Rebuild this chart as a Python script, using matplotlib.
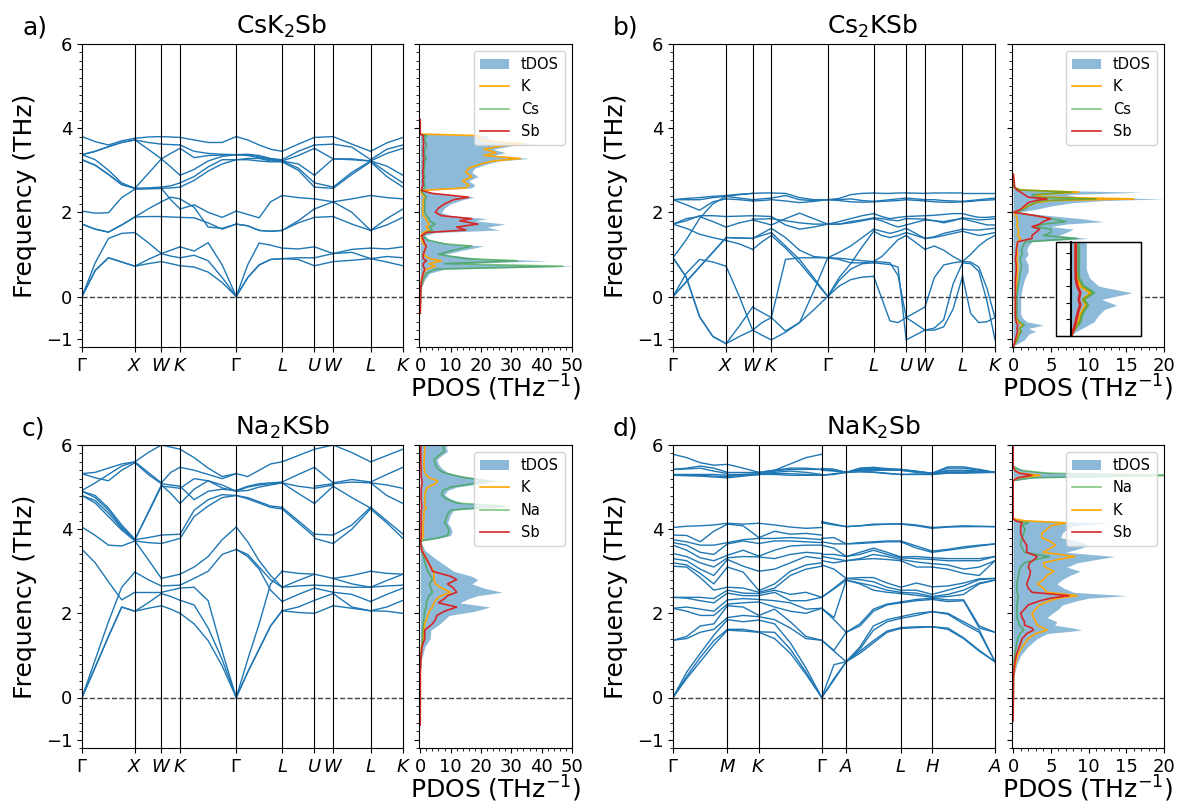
import numpy as np
import matplotlib.pyplot as plt
from matplotlib.ticker import MultipleLocator
from matplotlib.patches import Rectangle

# ---------------- k-paths ----------------
fcc_labels = [r'$\Gamma$', '$X$', '$W$', '$K$', r'$\Gamma$', '$L$', '$U$', '$W$', '$L$', '$K$']
fcc_seg_len = [1.0, 0.5, 0.3536, 1.0607, 0.8660, 0.6124, 0.3536, 0.7071, 0.6124]
hex_labels = [r'$\Gamma$', '$M$', '$K$', r'$\Gamma$', '$A$', '$L$', '$H$', '$A$']
hex_seg_len = [1.0, 0.5774, 1.1547, 0.45, 1.0, 0.5774, 1.1547]

# ---------------- band data (per segment, one list per branch) ----------------
bands_a = [
    [[0, 0.62, 0.92, 0.82, 0.72], [0, 0.62, 0.92, 0.82, 0.72], [0, 0.80, 1.38, 1.50, 1.52],
     [1.72, 1.60, 1.53, 1.70, 1.89], [1.72, 1.60, 1.53, 1.70, 1.89], [2.03, 1.98, 1.99, 2.35, 2.55],
     [3.25, 3.12, 2.90, 2.66, 2.57], [3.25, 3.12, 2.90, 2.66, 2.57], [3.37, 3.25, 3.00, 2.70, 2.57],
     [3.37, 3.45, 3.56, 3.66, 3.72], [3.37, 3.45, 3.56, 3.66, 3.72], [3.80, 3.68, 3.60, 3.70, 3.76]],
    [[0.72, 0.78, 0.83], [0.72, 0.88, 1.02], [1.52, 1.28, 1.02], [1.89, 1.90, 1.90], [1.89, 2.08, 2.25],
     [2.55, 2.56, 2.57], [2.57, 2.57, 2.57], [2.57, 2.58, 2.60], [2.57, 2.92, 3.27], [3.72, 3.50, 3.27],
     [3.72, 3.66, 3.62], [3.76, 3.79, 3.80]],
    [[0.83, 0.78, 0.73], [1.02, 0.96, 0.92], [1.02, 1.10, 1.18], [1.90, 1.89, 1.88], [2.25, 2.36, 2.32],
     [2.57, 2.30, 2.08], [2.57, 2.58, 2.60], [2.60, 2.63, 2.70], [3.27, 3.08, 2.88], [3.27, 3.40, 3.52],
     [3.62, 3.61, 3.60], [3.80, 3.79, 3.78]],
    [[0.73, 0.70, 0.58, 0.33, 0], [0.92, 0.98, 0.85, 0.45, 0], [1.18, 1.08, 1.28, 0.75, 0],
     [1.88, 1.87, 1.75, 1.60, 1.72], [2.08, 2.18, 2.00, 1.88, 2.03], [2.32, 2.12, 1.65, 1.62, 1.72],
     [2.60, 2.76, 2.98, 3.15, 3.25], [2.70, 2.85, 3.08, 3.25, 3.25], [2.88, 3.02, 3.22, 3.33, 3.37],
     [3.52, 3.30, 3.35, 3.36, 3.37], [3.60, 3.45, 3.40, 3.38, 3.37], [3.78, 3.72, 3.66, 3.66, 3.80]],
    [[0, 0.45, 0.75, 0.88, 0.90], [0, 0.45, 0.75, 0.88, 0.90], [0, 0.75, 1.27, 1.22, 1.15],
     [1.72, 1.68, 1.57, 1.55, 1.57], [1.72, 1.68, 1.57, 1.55, 1.57], [2.03, 1.95, 1.87, 2.25, 2.40],
     [3.25, 3.25, 3.22, 3.20, 3.20], [3.25, 3.28, 3.28, 3.22, 3.22], [3.37, 3.35, 3.30, 3.25, 3.22],
     [3.37, 3.37, 3.32, 3.27, 3.22], [3.37, 3.38, 3.35, 3.28, 3.25], [3.80, 3.72, 3.60, 3.50, 3.45]],
    [[0.90, 0.88, 0.73], [0.90, 0.92, 0.92], [1.15, 1.13, 1.18], [1.57, 1.75, 1.88], [1.57, 1.80, 2.08],
     [2.40, 2.35, 2.32], [3.20, 3.00, 2.60], [3.22, 3.05, 2.70], [3.22, 3.15, 2.88], [3.22, 3.35, 3.52],
     [3.25, 3.45, 3.60], [3.45, 3.62, 3.78]],
    [[0.73, 0.83], [0.92, 1.02], [1.18, 1.02], [1.88, 1.90], [2.08, 2.25], [2.32, 2.25], [2.60, 2.57],
     [2.70, 2.60], [2.88, 3.27], [3.52, 3.27], [3.60, 3.62], [3.78, 3.80]],
    [[0.83, 0.86, 0.90], [1.02, 1.05, 0.90], [1.02, 1.12, 1.15], [1.90, 1.72, 1.57], [2.25, 2.00, 1.57],
     [2.25, 2.32, 2.40], [2.57, 2.90, 3.20], [2.60, 2.95, 3.22], [3.27, 3.25, 3.22], [3.27, 3.27, 3.22],
     [3.62, 3.55, 3.25], [3.80, 3.62, 3.45]],
    [[0.90, 0.82, 0.73], [0.90, 0.95, 0.92], [1.15, 1.13, 1.18], [1.57, 1.70, 1.88], [1.57, 1.85, 2.08],
     [2.40, 2.35, 2.32], [3.20, 2.85, 2.60], [3.22, 2.95, 2.70], [3.22, 3.10, 2.88], [3.22, 3.40, 3.52],
     [3.25, 3.50, 3.60], [3.45, 3.65, 3.78]],
]

bands_b = [
    [[0.92, 0.46, -0.48, -0.95, -1.12], [0.92, 0.46, -0.48, -0.95, -1.12], [0, 0.55, 0.88, 0.82, 0.72],
     [0, 0.35, 0.70, 1.05, 1.40], [0, 0.35, 0.70, 1.05, 1.40], [0.92, 1.35, 1.85, 2.20, 2.38],
     [1.72, 1.62, 1.48, 1.40, 1.33], [1.72, 1.85, 1.90, 1.78, 1.65], [1.72, 1.80, 1.92, 1.92, 1.90],
     [2.30, 2.18, 2.05, 2.25, 2.32], [2.30, 2.30, 2.30, 2.35, 2.38], [2.30, 2.33, 2.35, 2.38, 2.40]],
    [[-1.12, -0.95, -0.80], [-1.12, -0.70, -0.25], [0.72, 0.00, -0.80], [1.33, 1.25, 1.12],
     [1.40, 1.39, 1.38], [1.40, 1.39, 1.38], [1.65, 1.75, 1.82], [1.90, 1.91, 1.92],
     [2.32, 2.30, 2.27], [2.38, 2.34, 2.30], [2.38, 2.42, 2.45], [2.40, 2.43, 2.45]],
    [[-0.80, -0.92, -1.03], [-0.80, -0.62, -0.50], [-0.25, -0.38, -0.50], [1.12, 1.30, 1.45],
     [1.38, 1.45, 1.52], [1.38, 1.50, 1.62], [1.82, 1.76, 1.70], [1.84, 1.84, 1.85], [1.92, 1.91, 1.90],
     [2.27, 2.28, 2.30], [2.30, 2.32, 2.34], [2.45, 2.46, 2.46]],
    [[-1.03, -0.85, -0.62, -0.32, 0], [-0.50, 0.88, 0.92, 0.92, 0.92], [-0.50, -0.82, -0.62, 0.12, 0.92],
     [1.45, 1.15, 0.80, 0.40, 0], [1.52, 1.20, 0.88, 0.45, 0], [1.62, 1.40, 1.10, 0.95, 0.92],
     [1.70, 1.85, 1.98, 1.85, 1.72], [1.85, 1.80, 1.75, 1.72, 1.72], [1.90, 1.70, 1.60, 1.65, 1.72],
     [2.30, 2.27, 2.23, 2.26, 2.30], [2.34, 2.40, 2.30, 2.28, 2.30], [2.46, 2.45, 2.35, 2.30, 2.30]],
    [[0, 0.25, 0.40, 0.46, 0.48], [0, 0.38, 0.65, 0.78, 0.80], [0, 0.45, 0.78, 1.18, 1.55],
     [0.92, 0.88, 0.80, 0.80, 0.83], [0.92, 0.91, 0.88, 0.85, 0.83], [0.92, 1.05, 1.20, 1.40, 1.60],
     [1.72, 1.72, 1.75, 1.80, 1.85], [1.72, 1.72, 1.78, 1.82, 1.87], [1.72, 1.78, 1.85, 1.92, 1.97],
     [2.30, 2.28, 2.25, 2.24, 2.25], [2.30, 2.30, 2.32, 2.28, 2.26], [2.30, 2.33, 2.42, 2.45, 2.46]],
    [[0.48, -0.05, -0.58, -0.62, -0.50], [0.80, 0.78, 0.76, 0.70, -1.03], [0.83, 0.82, 0.80, 0.50, -0.50],
     [0.83, 0.95, 1.15, 1.35, 1.45], [1.55, 1.45, 1.40, 1.45, 1.52], [1.60, 1.55, 1.50, 1.55, 1.62],
     [1.85, 1.80, 1.72, 1.65, 1.70], [1.87, 1.85, 1.82, 1.80, 1.85], [1.97, 1.90, 1.85, 1.88, 1.90],
     [2.25, 2.26, 2.27, 2.28, 2.30], [2.26, 2.28, 2.30, 2.32, 2.34], [2.46, 2.45, 2.45, 2.46, 2.46]],
    [[-1.03, -0.80], [-0.50, -0.80], [-0.50, -0.25], [1.45, 1.12], [1.52, 1.38], [1.62, 1.38],
     [1.70, 1.82], [1.85, 1.84], [1.90, 1.92], [2.30, 2.27], [2.34, 2.30], [2.46, 2.45]],
    [[-0.80, -0.80, -0.72, -0.30, 0.48], [-0.80, -0.75, -0.55, 0.30, 0.80], [-0.25, 0.45, 0.75, 0.80, 0.83],
     [1.12, 1.20, 1.10, 0.95, 0.83], [1.38, 1.40, 1.45, 1.50, 1.55], [1.38, 1.42, 1.50, 1.55, 1.60],
     [1.82, 1.80, 1.78, 1.82, 1.85], [1.84, 1.80, 1.75, 1.80, 1.87], [1.92, 1.93, 1.95, 1.97, 1.97],
     [2.27, 2.25, 2.24, 2.24, 2.25], [2.30, 2.30, 2.28, 2.27, 2.26], [2.45, 2.46, 2.46, 2.46, 2.46]],
    [[0.48, -0.40, -0.62, -0.60, -0.50], [0.80, 0.78, 0.60, -0.10, -1.03], [0.83, 0.82, 0.70, 0.20, -0.50],
     [0.83, 1.00, 1.20, 1.35, 1.45], [1.55, 1.50, 1.45, 1.48, 1.52], [1.60, 1.58, 1.58, 1.60, 1.62],
     [1.85, 1.80, 1.75, 1.70, 1.70], [1.87, 1.85, 1.82, 1.83, 1.85], [1.97, 1.92, 1.88, 1.88, 1.90],
     [2.25, 2.26, 2.28, 2.29, 2.30], [2.26, 2.28, 2.30, 2.32, 2.34], [2.46, 2.46, 2.46, 2.46, 2.46]],
]

bands_c = [
    [[0, 0.72, 1.45, 2.15, 2.05], [0, 0.72, 1.45, 2.15, 2.05], [0, 0.90, 1.80, 2.62, 2.98],
     [3.52, 3.20, 2.75, 2.32, 2.50], [4.05, 3.85, 3.62, 3.60, 3.72], [4.80, 4.62, 4.30, 3.98, 3.72],
     [4.80, 4.68, 4.38, 4.02, 3.75], [4.90, 4.75, 4.45, 4.05, 3.75], [4.90, 4.80, 4.50, 4.10, 3.76],
     [4.92, 5.10, 5.30, 5.50, 5.60], [5.32, 5.22, 5.15, 5.40, 5.58], [5.32, 5.35, 5.45, 5.55, 5.60]],
    [[2.05, 2.12, 2.18], [2.05, 2.25, 2.47], [2.98, 2.80, 2.65], [2.50, 2.50, 2.50], [3.72, 3.28, 2.83],
     [3.72, 3.68, 3.66], [3.75, 3.80, 3.86], [3.75, 4.40, 5.05], [3.76, 4.38, 5.02], [5.58, 5.30, 5.08],
     [5.60, 5.35, 5.10], [5.60, 5.82, 6.00]],
    [[2.18, 2.10, 2.00], [2.47, 2.40, 2.31], [2.50, 2.55, 2.60], [2.65, 2.66, 2.67], [2.83, 2.88, 2.93],
     [3.66, 3.72, 3.78], [3.86, 3.87, 3.88], [5.05, 4.85, 4.61], [5.02, 5.00, 4.97], [5.08, 5.05, 5.02],
     [5.10, 5.35, 5.47], [6.00, 5.95, 5.90]],
    [[2.00, 1.75, 1.35, 0.75, 0], [2.31, 2.20, 1.65, 0.90, 0], [2.60, 2.62, 2.30, 1.10, 0],
     [2.67, 2.83, 3.00, 3.40, 3.52], [2.93, 3.10, 3.35, 3.75, 4.05], [3.78, 4.30, 4.55, 4.75, 4.80],
     [3.88, 4.45, 4.70, 4.82, 4.80], [4.61, 4.95, 5.15, 5.05, 4.90], [4.97, 5.20, 5.15, 4.98, 4.90],
     [5.02, 4.70, 4.90, 4.95, 4.92], [5.47, 5.40, 5.30, 5.20, 5.32], [5.90, 5.70, 5.45, 5.25, 5.32]],
    [[0, 0.60, 1.15, 1.70, 2.06], [0, 0.60, 1.15, 1.70, 2.06], [0, 0.90, 1.75, 2.70, 3.00],
     [3.52, 3.35, 3.05, 2.55, 2.28], [3.52, 3.40, 3.10, 2.80, 2.62], [4.05, 3.70, 3.25, 2.90, 2.62],
     [4.80, 4.72, 4.62, 4.52, 4.48], [4.80, 4.75, 4.65, 4.55, 4.52], [4.90, 4.92, 5.00, 5.05, 5.10],
     [4.90, 5.00, 5.05, 5.08, 5.10], [4.92, 5.02, 5.08, 5.10, 5.12], [5.32, 5.25, 5.40, 5.55, 5.60]],
    [[2.06, 2.02, 2.00], [2.06, 2.15, 2.31], [2.28, 2.45, 2.60], [2.62, 2.65, 2.67], [2.62, 2.78, 2.93],
     [3.00, 2.95, 2.93], [4.48, 4.15, 3.82], [4.52, 4.20, 3.88], [5.10, 4.85, 4.61], [5.10, 5.02, 4.97],
     [5.12, 5.30, 5.47], [5.60, 5.75, 5.90]],
    [[2.00, 2.18], [2.31, 2.47], [2.60, 2.50], [2.67, 2.65], [2.93, 2.83], [3.78, 3.66], [3.88, 3.86],
     [4.61, 5.02], [4.97, 5.05], [5.02, 5.08], [5.47, 5.10], [5.90, 6.00]],
    [[2.18, 2.12, 2.06], [2.47, 2.15, 2.06], [2.50, 2.45, 2.28], [2.65, 2.62, 2.62], [2.83, 2.70, 2.62],
     [2.83, 2.90, 3.00], [3.66, 4.00, 4.48], [3.86, 4.10, 4.52], [5.02, 4.75, 4.50], [5.08, 5.12, 5.10],
     [5.10, 5.18, 5.12], [6.00, 5.82, 5.60]],
    [[2.06, 2.05, 2.00], [2.06, 2.15, 2.31], [2.28, 2.45, 2.60], [2.62, 2.65, 2.67], [2.62, 2.78, 2.93],
     [3.00, 2.95, 2.93], [4.48, 4.15, 3.78], [4.52, 4.20, 3.88], [5.10, 4.80, 4.61], [5.10, 5.05, 4.97],
     [5.12, 5.30, 5.47], [5.60, 5.75, 5.90]],
]

# NaK2Sb: frequencies listed per k-point (sorted), 24 modes
d_G1 = [0, 0, 0, 1.36, 1.36, 2.12, 2.12, 2.38, 2.38, 3.12, 3.20, 3.30, 3.42, 3.62, 3.68, 3.75, 3.86, 4.04,
        5.28, 5.28, 5.30, 5.42, 5.42, 5.78]
d_M = [1.60, 1.62, 1.85, 1.90, 2.18, 2.22, 2.32, 2.48, 2.55, 2.62, 3.10, 3.28, 3.32, 3.38, 3.65, 3.68, 4.12, 4.14,
       5.22, 5.25, 5.28, 5.32, 5.35, 5.54]
d_K = [1.55, 1.56, 1.84, 1.92, 1.95, 2.27, 2.33, 2.42, 2.47, 2.50, 2.54, 3.00, 3.34, 3.36, 3.66, 3.78, 3.80, 4.14,
       5.30, 5.30, 5.32, 5.32, 5.35, 5.35]
d_G2 = [0, 0, 0, 1.36, 1.36, 2.12, 2.12, 2.38, 2.38, 3.15, 3.25, 3.35, 3.40, 3.62, 3.70, 3.78, 4.15, 4.18,
        5.28, 5.28, 5.40, 5.40, 5.44, 5.44]
d_A = [0.85, 0.85, 0.85, 0.85, 1.55, 1.55, 2.79, 2.79, 2.83, 2.83, 3.25, 3.25, 3.35, 3.35, 3.65, 3.65, 4.06, 4.06,
       5.35, 5.35, 5.35, 5.35, 5.35, 5.35]
d_L = [1.64, 1.66, 1.88, 1.92, 2.25, 2.27, 2.47, 2.50, 2.55, 2.62, 3.25, 3.28, 3.32, 3.34, 3.70, 3.72, 4.12, 4.13,
       5.30, 5.30, 5.40, 5.40, 5.42, 5.42]
d_H = [1.68, 1.68, 2.04, 2.04, 2.33, 2.36, 2.38, 2.40, 2.45, 2.63, 3.10, 3.18, 3.28, 3.32, 3.45, 3.48, 4.02, 4.04,
       5.30, 5.30, 5.32, 5.32, 5.33, 5.33]
bands_d = [
    [d_G1,
     [0.45, 0.50, 0.60, 1.40, 1.45, 2.05, 2.15, 2.36, 2.38, 3.10, 3.15, 3.25, 3.35, 3.50, 3.62, 3.70, 3.85, 4.07,
      5.27, 5.28, 5.30, 5.43, 5.45, 5.70],
     [0.85, 0.95, 1.05, 1.55, 1.70, 1.95, 2.10, 2.30, 2.38, 2.85, 2.95, 3.05, 3.20, 3.32, 3.45, 3.62, 3.70, 4.08,
      5.26, 5.28, 5.30, 5.45, 5.50, 5.58],
     [1.25, 1.35, 1.48, 1.62, 1.75, 1.95, 2.05, 2.25, 2.35, 2.55, 2.70, 2.90, 3.10, 3.25, 3.40, 3.62, 3.95, 4.10,
      5.24, 5.26, 5.30, 5.38, 5.45, 5.52],
     d_M],
    [d_M,
     [1.58, 1.62, 1.80, 1.95, 2.15, 2.25, 2.35, 2.42, 2.48, 2.60, 2.98, 3.12, 3.35, 3.50, 3.72, 3.75, 4.08, 4.12,
      5.26, 5.28, 5.30, 5.32, 5.35, 5.45],
     d_K],
    [d_K,
     [1.40, 1.55, 1.75, 1.85, 2.10, 2.15, 2.30, 2.50, 2.55, 2.60, 2.70, 3.05, 3.30, 3.50, 3.72, 3.78, 3.95, 4.10,
      5.30, 5.32, 5.35, 5.38, 5.40, 5.40],
     [1.05, 1.15, 1.30, 1.65, 1.80, 2.05, 2.25, 2.30, 2.45, 2.90, 3.00, 3.20, 3.40, 3.60, 3.72, 3.80, 3.88, 4.05,
      5.28, 5.32, 5.38, 5.42, 5.45, 5.55],
     [0.55, 0.60, 0.70, 1.40, 1.45, 2.00, 2.10, 2.30, 2.50, 3.05, 3.15, 3.35, 3.45, 3.62, 3.70, 3.78, 3.90, 4.02,
      5.28, 5.30, 5.35, 5.42, 5.45, 5.70],
     d_G1],
    [d_G2,
     [0.42, 0.45, 0.78, 1.10, 1.12, 1.85, 1.90, 2.58, 2.60, 3.05, 3.20, 3.30, 3.40, 3.55, 3.65, 3.80, 4.10, 4.12,
      5.30, 5.32, 5.38, 5.40, 5.42, 5.42],
     d_A],
    [d_A,
     [1.05, 1.10, 1.15, 1.20, 1.70, 1.75, 2.70, 2.72, 2.80, 2.85, 3.28, 3.30, 3.40, 3.45, 3.66, 3.68, 4.08, 4.08,
      5.36, 5.38, 5.40, 5.42, 5.44, 5.45],
     [1.30, 1.35, 1.60, 1.70, 2.05, 2.10, 2.55, 2.65, 2.75, 2.85, 3.30, 3.40, 3.50, 3.55, 3.68, 3.70, 4.10, 4.12,
      5.35, 5.36, 5.40, 5.42, 5.45, 5.47],
     [1.55, 1.58, 1.80, 1.85, 2.20, 2.22, 2.50, 2.55, 2.62, 2.72, 3.28, 3.35, 3.40, 3.45, 3.70, 3.72, 4.12, 4.12,
      5.32, 5.33, 5.40, 5.41, 5.42, 5.44],
     d_L],
    [d_L,
     [1.66, 1.68, 1.95, 2.00, 2.30, 2.33, 2.43, 2.48, 2.55, 2.72, 3.10, 3.22, 3.30, 3.35, 3.55, 3.60, 4.08, 4.10,
      5.30, 5.31, 5.35, 5.36, 5.37, 5.38],
     d_H],
    [d_H,
     [1.62, 1.65, 1.98, 2.00, 2.28, 2.32, 2.40, 2.45, 2.55, 2.65, 3.05, 3.15, 3.25, 3.30, 3.50, 3.52, 4.05, 4.06,
      5.33, 5.35, 5.38, 5.40, 5.45, 5.48],
     [1.40, 1.42, 1.75, 1.80, 2.30, 2.32, 2.45, 2.55, 2.65, 2.72, 2.95, 3.05, 3.25, 3.30, 3.55, 3.58, 4.06, 4.08,
      5.33, 5.35, 5.38, 5.40, 5.45, 5.48],
     [1.10, 1.12, 1.55, 1.60, 1.65, 1.70, 2.70, 2.72, 2.80, 2.82, 2.90, 3.10, 3.25, 3.30, 3.60, 3.62, 4.06, 4.07,
      5.34, 5.35, 5.36, 5.38, 5.40, 5.42],
     d_A],
]

# ---------------- PDOS data ----------------
pdos_a_freq = [-0.4, 0.2, 0.4, 0.55, 0.65, 0.72, 0.78, 0.85, 0.9, 1.0, 1.1, 1.2, 1.25, 1.35, 1.45, 1.52,
               1.58, 1.65, 1.72, 1.8, 1.85, 1.92, 2.0, 2.1, 2.2, 2.3, 2.36, 2.45, 2.52, 2.58, 2.65, 2.75,
               2.85, 2.95, 3.05, 3.15, 3.22, 3.28, 3.35, 3.42, 3.5, 3.58, 3.63, 3.7, 3.76, 3.82, 3.86, 4.2]
pdos_a_tdos = [0, 0.3, 1.5, 3, 8, 52, 12, 42, 20, 8, 14, 21, 10, 3, 1.5, 5, 26, 22, 28, 18, 22, 10, 7, 8,
               10, 14, 18, 5, 1, 17, 18, 16, 19, 17, 18, 22, 26, 36, 24, 28, 24, 30, 38, 24, 22, 22, 0, 0]
pdos_a_K = [0, 0.1, 0.5, 1, 2, 5, 3, 7, 3, 1, 1.5, 2, 1, 0.5, 0.3, 1, 3, 2, 3, 2, 2, 1, 0.8, 0.8,
            1, 1, 1.5, 0.5, 0.2, 15, 16, 14, 17, 15, 16, 20, 24, 33, 21, 25, 21, 27, 34, 21, 19, 20, 0, 0]
pdos_a_Cs = [0, 0.2, 1, 2, 5, 47, 8, 32, 15, 6, 11, 17, 8, 2, 1, 2, 4, 3, 5, 3, 3, 2, 1.5, 1.5,
             1.5, 1.5, 2, 1, 0.3, 1.5, 1.5, 1.2, 1.5, 1.2, 1.3, 1.5, 1.5, 2, 1.5, 1.5, 1.5, 2, 2, 1.5, 1.5, 2, 0, 0]
pdos_a_Sb = [0, 0.2, 0.5, 1, 1.5, 1, 1, 2, 1, 1, 1.5, 2, 1.5, 1, 0.5, 2, 15, 12, 19, 13, 17, 7, 5, 6,
             8, 11, 16, 4, 0.5, 0.5, 1, 0.8, 1, 0.8, 1, 1, 1, 1.2, 1, 1, 1, 1, 1.2, 1, 1, 1, 0, 0]

pdos_b_freq = [-1.2, -1.15, -1.1, -1.03, -0.95, -0.88, -0.83, -0.76, -0.68, -0.6, -0.5, -0.4, -0.2, 0.0,
               0.2, 0.4, 0.6, 0.75, 0.9, 1.0, 1.1, 1.2, 1.3, 1.38, 1.45, 1.52, 1.6, 1.66, 1.72, 1.78,
               1.85, 1.92, 2.0, 2.07, 2.15, 2.23, 2.28, 2.32, 2.36, 2.42, 2.48, 2.53, 2.6, 2.9]
pdos_b_tdos = [0, 0.3, 0.8, 1.5, 1.8, 2.2, 3.0, 2.0, 4.0, 1.8, 1.2, 1.0, 1.0, 1.0, 1.2, 1.5, 2.0, 2.0,
               1.6, 2.0, 1.8, 2.0, 2.5, 10, 6, 7, 8, 5, 7, 12, 9, 5, 0.5, 3, 5, 8, 12, 20, 9, 7, 17, 2, 0, 0]
pdos_b_K = [0, 0.1, 0.3, 0.5, 0.6, 0.8, 1.0, 0.8, 1.3, 0.6, 0.4, 0.3, 0.3, 0.3, 0.4, 0.5, 0.6, 0.6,
            0.5, 0.6, 0.5, 0.5, 0.6, 1.0, 0.6, 0.7, 0.7, 0.5, 0.5, 0.6, 0.5, 0.4, 0.1, 1.0, 2.0, 3.0, 5.0,
            16, 4, 3, 8.7, 1, 0, 0]
pdos_b_Cs = [0, 0.1, 0.3, 0.6, 0.7, 0.9, 1.1, 0.8, 1.5, 0.8, 0.5, 0.5, 0.5, 0.5, 0.6, 0.8, 1.0, 1.1,
             0.9, 1.2, 1.1, 1.3, 1.6, 8.5, 4, 5, 5, 3, 4, 7, 5, 3, 0.2, 1.5, 2, 3, 4, 11, 3, 2.5, 7.8, 1, 0, 0]
pdos_b_Sb = [0, 0.1, 0.2, 0.3, 0.4, 0.5, 0.6, 0.5, 0.6, 0.4, 0.3, 0.3, 0.3, 0.3, 0.3, 0.3, 0.4, 0.4,
             0.3, 0.4, 0.4, 0.5, 0.6, 2.5, 2.5, 3, 3.5, 2.5, 3.5, 4, 5, 3, 0.1, 1, 1.5, 2, 3, 4.5, 2, 1.5,
             1, 0.5, 0.2, 0.05]

pdos_c_freq = [-0.65, 0.6, 0.9, 1.2, 1.4, 1.6, 1.75, 1.85, 1.95, 2.05, 2.15, 2.25, 2.35, 2.42, 2.5, 2.6,
               2.7, 2.8, 2.88, 3.0, 3.1, 3.3, 3.5, 3.65, 3.72, 3.78, 3.85, 3.95, 4.05, 4.15, 4.25, 4.35,
               4.45, 4.5, 4.55, 4.62, 4.72, 4.82, 4.92, 5.0, 5.08, 5.15, 5.22, 5.28, 5.35, 5.45, 5.55,
               5.65, 5.75, 5.85, 5.95, 6.0]
pdos_c_tdos = [0, 0.1, 0.4, 1.5, 3.3, 3.5, 6.5, 8, 9.5, 18, 23, 13, 16, 19, 27, 21, 17, 19, 17, 11, 9, 5,
               1.5, 0.6, 0.3, 6, 10, 10.5, 10, 9, 9.5, 10, 11, 20, 30, 14, 10, 8, 9, 12, 20, 26, 18, 13, 9,
               7, 6, 5.5, 7, 9, 8.5, 9]
pdos_c_K = [0, 0, 0.1, 0.4, 1.0, 1.2, 1.5, 2.0, 2.5, 3.0, 4.0, 4.5, 5.5, 7, 10, 7, 5, 4.5, 4.5, 4.5, 3.5,
            2.0, 0.6, 0.2, 0.1, 0.8, 1.0, 1.0, 1.0, 1.0, 1.2, 1.2, 1.3, 2.0, 1.5, 1.5, 1.5, 1.5, 1.8, 2.5,
            5.0, 5.7, 3.0, 2.0, 1.5, 1.3, 1.2, 1.3, 1.3, 1.5, 1.5, 1.5]
pdos_c_Na = [0, 0, 0.1, 0.5, 0.8, 0.8, 1.0, 1.2, 1.3, 1.5, 2.0, 2.0, 2.5, 3.0, 4.0, 3.5, 3.0, 4.0, 3.5,
             2.5, 2.0, 1.2, 0.5, 0.3, 0.2, 5, 9, 9.5, 9, 8, 8.5, 9, 10, 18, 28, 12, 8.5, 7, 7.5, 10, 17,
             22, 15, 11, 7.5, 5.5, 5, 4.5, 6, 8, 7.5, 8]
pdos_c_Sb = [0, 0.05, 0.2, 0.6, 1.5, 1.5, 4, 5, 5.5, 8, 12, 6, 8, 9, 12, 11, 9, 12, 10, 4, 3.5, 2, 0.5,
             0.2, 0.1, 0.3, 0.3, 0.3, 0.3, 0.3, 0.3, 0.3, 0.3, 0.5, 0.5, 0.4, 0.3, 0.3, 0.3, 0.4, 0.6,
             0.6, 0.4, 0.3, 0.3, 0.3, 0.2, 0.2, 0.2, 0.2, 0.2, 0.2]

pdos_d_freq = [-0.55, 0.5, 0.8, 1.0, 1.2, 1.4, 1.52, 1.6, 1.65, 1.72, 1.8, 1.9, 2.0, 2.1, 2.2, 2.3, 2.36,
               2.42, 2.5, 2.6, 2.7, 2.8, 2.9, 3.0, 3.1, 3.2, 3.28, 3.35, 3.45, 3.55, 3.62, 3.7, 3.8, 3.9,
               4.0, 4.08, 4.15, 4.2, 4.25, 5.15, 5.22, 5.28, 5.33, 5.4, 5.5, 6.0]
pdos_d_tdos = [0, 0.1, 0.5, 1.0, 1.9, 3.2, 4.5, 9.1, 8, 5.5, 5.8, 4.5, 5.2, 6, 6.5, 8.5, 10, 15, 8, 6.7,
               5.8, 6.5, 7.5, 8.9, 7.1, 8.5, 11, 13.5, 7, 9, 10, 8.9, 6.3, 6.5, 7.1, 8, 12.9, 3, 0, 0, 3,
               22, 6, 1.5, 0, 0]
pdos_d_Na = [0, 0, 0.1, 0.2, 0.4, 0.6, 0.9, 1.4, 1.2, 0.8, 0.7, 0.5, 0.5, 0.5, 0.5, 0.6, 0.6, 0.7, 0.5,
             0.5, 0.5, 0.6, 0.7, 0.8, 1.0, 1.5, 3.0, 4.8, 1.5, 1.2, 1.0, 1.0, 1.2, 1.4, 1.6, 1.2, 2.0, 0.5,
             0, 0, 2.2, 22, 4.5, 1.0, 0, 0]
pdos_d_K = [0, 0.05, 0.3, 0.6, 1.2, 2.0, 3.0, 4.5, 4.0, 3.2, 3.0, 2.7, 2.5, 3.0, 3.5, 4.9, 6, 8.5, 4.5,
            4.0, 3.2, 4.0, 4.5, 5.4, 4.2, 4.0, 6, 8.2, 4.0, 5.0, 5.6, 5.0, 3.8, 3.8, 4.5, 5.0, 7.1, 1.5,
            0, 0, 0.5, 3.6, 0.8, 0.2, 0, 0]
pdos_d_Sb = [0, 0.05, 0.2, 0.4, 0.8, 1.2, 1.8, 2.7, 2.5, 1.5, 1.5, 1.2, 1.0, 1.5, 2.0, 3.6, 5, 7.4, 2.5,
             2.0, 1.8, 2.0, 2.2, 2.3, 2.0, 2.2, 2.8, 3.2, 1.8, 1.8, 1.8, 1.5, 1.2, 1.0, 1.0, 1.0, 1.2, 0.3,
             0, 0, 0.6, 2.5, 0.8, 0.2, 0, 0]

titles = ['CsK$_2$Sb', 'Cs$_2$KSb', 'Na$_2$KSb', 'NaK$_2$Sb']
panel_tags = ['a)', 'b)', 'c)', 'd)']

# ---------------- plotting ----------------
BAND_C = '#1f77b4'
COL = {'K': 'orange', 'Cs': '#2ca02c', 'Na': '#2ca02c', 'Sb': '#d62728'}
ALPHA = {'K': 1.0, 'Cs': 0.6, 'Na': 0.6, 'Sb': 1.0}

fig = plt.figure(figsize=(11.78, 8.06), dpi=100)
W, H = 1178, 806


def px_axes(x0, y0, x1, y1):
    return fig.add_axes([x0 / W, 1 - y1 / H, (x1 - x0) / W, (y1 - y0) / H])


def freq_axis(ax):
    ax.set_ylim(-1.2, 6)
    ax.set_yticks([-1, 0, 2, 4, 6])
    ax.yaxis.set_minor_locator(MultipleLocator(0.2))
    ax.tick_params(labelsize=13)
    ax.axhline(0, color='k', ls='--', lw=1, alpha=0.75, zorder=1)


def draw_bands(ax, seg_len, labels, segments, per_kpoint=False):
    ticks = np.concatenate([[0.0], np.cumsum(seg_len)])
    for i, seg in enumerate(segments):
        arr = np.array(seg, dtype=float)
        if per_kpoint:
            arr = arr.T
        x = np.linspace(ticks[i], ticks[i + 1], arr.shape[1])
        for branch in arr:
            ax.plot(x, branch, color=BAND_C, lw=1)
    for t in ticks[1:-1]:
        ax.axvline(t, color='k', lw=0.8)
    ax.set_xlim(ticks[0], ticks[-1])
    ax.set_xticks(ticks)
    ax.set_xticklabels(labels)
    freq_axis(ax)


def draw_pdos(ax, freq, tdos, parts, lw=1.2):
    ax.fill_betweenx(freq, 0, tdos, color='C0', alpha=0.5, lw=0, label='tDOS')
    for name, vals in parts:
        ax.plot(vals, freq, color=COL[name], alpha=ALPHA[name], lw=lw, label=name)


cols = [(82, 403, 419, 572), (673, 995, 1012, 1164)]
rows = [(44, 347), (445, 748)]

panels = [
    (fcc_seg_len, fcc_labels, bands_a, False, pdos_a_freq, pdos_a_tdos,
     [('K', pdos_a_K), ('Cs', pdos_a_Cs), ('Sb', pdos_a_Sb)], 50),
    (fcc_seg_len, fcc_labels, bands_b, False, pdos_b_freq, pdos_b_tdos,
     [('K', pdos_b_K), ('Cs', pdos_b_Cs), ('Sb', pdos_b_Sb)], 20),
    (fcc_seg_len, fcc_labels, bands_c, False, pdos_c_freq, pdos_c_tdos,
     [('K', pdos_c_K), ('Na', pdos_c_Na), ('Sb', pdos_c_Sb)], 50),
    (hex_seg_len, hex_labels, bands_d, True, pdos_d_freq, pdos_d_tdos,
     [('Na', pdos_d_Na), ('K', pdos_d_K), ('Sb', pdos_d_Sb)], 20),
]

for idx, (seg_len, labels, bands, per_k, pf, pt, parts, xmax) in enumerate(panels):
    bx0, bx1, px0, px1 = cols[idx % 2]
    y0, y1 = rows[idx // 2]
    dy = y0 - 44

    ax_b = px_axes(bx0, y0, bx1, y1)
    draw_bands(ax_b, seg_len, labels, bands, per_kpoint=per_k)

    ax_p = px_axes(px0, y0, px1, y1)
    draw_pdos(ax_p, pf, pt, parts)
    freq_axis(ax_p)
    ax_p.set_yticklabels([])
    if xmax == 50:
        ax_p.set_xlim(-0.4, 50)
        ax_p.set_xticks([0, 10, 20, 30, 40, 50])
        ax_p.xaxis.set_minor_locator(MultipleLocator(2))
    else:
        ax_p.set_xlim(-0.15, 20)
        ax_p.set_xticks([0, 5, 10, 15, 20])
        ax_p.xaxis.set_minor_locator(MultipleLocator(1))
    ax_p.legend(loc='upper right', fontsize=10.5)

    if idx == 1:
        ins = px_axes(1056, 242, 1141, 336)
        draw_pdos(ins, pf, pt, parts, lw=2)
        ins.set_xlim(-1.0, 4.6)
        ins.set_ylim(-1.2, -0.07)
        ins.spines['left'].set_position(('data', 0))
        ins.spines['left'].set_linewidth(1.5)
        ins.set_xticks([])
        ins.set_yticks([-1.0, -0.8, -0.6, -0.4, -0.2])
        ins.set_yticklabels([])
        ins.add_patch(Rectangle((0, 0), 1, 1, transform=ins.transAxes, fill=False,
                                ec='k', lw=1, clip_on=False))

    cx = bx0 - 82
    fig.text((282 + cx) / W, 1 - (34 + dy) / H, titles[idx], ha='center', va='baseline', fontsize=18)
    fig.text((22 + cx) / W, 1 - (34 + dy) / H, panel_tags[idx], ha='left', va='baseline', fontsize=18)
    fig.text((25 + cx) / W, 1 - (196 + dy) / H, 'Frequency (THz)', rotation=90,
             ha='center', va='center', fontsize=18)
    fig.text(((px0 + px1) / 2) / W, 1 - (397 + dy) / H, 'PDOS (THz$^{-1}$)',
             ha='center', va='baseline', fontsize=18)

fig.savefig('out.png', dpi=100)
